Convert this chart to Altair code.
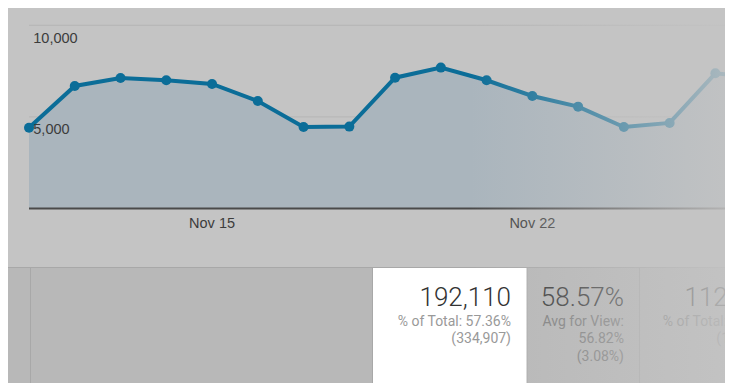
import altair as alt
import pandas as pd

# ---- data ----
days = list(range(11, 28))
sessions = [4410, 6690, 7120, 7000, 6800, 5870, 4450, 4470, 7140, 7690,
            7000, 6140, 5560, 4450, 4670, 7380, 7140]
y_ticks = [5000, 10000]
y_tick_labels = ["5,000", "10,000"]
x_tick_days = [15, 22]
x_tick_labels = ["Nov 15", "Nov 22"]

metric_values = ["192,110", "58.57%", "112,797"]
metric_line1 = ["% of Total: 57.36%", "Avg for View:", "% of Total: 33.68%"]
metric_line2 = ["(334,907)", "56.82%", "(195,374)"]
metric_line3 = ["", "(3.08%)", ""]

# ---- layout / style ----
W, H = 717, 375
BG = "#c4c4c4"
LINE = "#0b6d98"
AREA = "#aab5bd"
GRID = "#b6b6b6"
TABLE_BG = "#b8b8b8"
BORDER = "#a8a8a8"
AXIS_FONT = "Liberation Sans"
TABLE_FONT = "Roboto"

xs = alt.Scale(domain=[10.541, 26.21], nice=False, zero=False)
ys = alt.Scale(domain=[-9525, 10944], nice=False, zero=False)

base = 0
series = pd.DataFrame({"day": days, "sessions": sessions, "base": [base] * len(days)})
yt = pd.DataFrame({"v": y_ticks, "label": y_tick_labels, "x0": [days[0]] * len(y_ticks)})
xt = pd.DataFrame({"d": x_tick_days, "label": x_tick_labels, "base": [base] * len(x_tick_days)})
bl = pd.DataFrame({"x0": [days[0]], "base": [base]})
one = pd.DataFrame({"k": [0]})

X = alt.X("day:Q", scale=xs, axis=None)
Y = alt.Y("sessions:Q", scale=ys, axis=None, stack=None)

layers = []

# table background and borders
layers.append(alt.Chart(one).mark_rect(color=TABLE_BG).encode(
    x=alt.value(0), x2=alt.value(W), y=alt.value(259), y2=alt.value(H)))
layers.append(alt.Chart(one).mark_rect(color=BORDER).encode(
    x=alt.value(0), x2=alt.value(W), y=alt.value(259), y2=alt.value(260)))
for px in [22, 364, 518.5, 631]:
    layers.append(alt.Chart(one).mark_rect(color=BORDER).encode(
        x=alt.value(px), x2=alt.value(px + 1), y=alt.value(259), y2=alt.value(H)))

# gridlines
layers.append(alt.Chart(yt).mark_rule(color=GRID, strokeWidth=1).encode(
    y=alt.Y("v:Q", scale=ys, axis=None),
    x=alt.X("x0:Q", scale=xs, axis=None), x2=alt.value(W)))

# area + baseline + line + points
layers.append(alt.Chart(series).mark_area(color=AREA, clip=True).encode(
    x=X, y=Y, y2=alt.Y2("base:Q")))
layers.append(alt.Chart(bl).mark_rule(color="#4a4a4a", strokeWidth=2).encode(
    y=alt.Y("base:Q", scale=ys, axis=None),
    x=alt.X("x0:Q", scale=xs, axis=None), x2=alt.value(W)))
layers.append(alt.Chart(series).mark_line(color=LINE, strokeWidth=4, clip=True).encode(
    x=X, y=Y))
layers.append(alt.Chart(series).mark_circle(color=LINE, size=100, opacity=1, clip=True).encode(
    x=X, y=Y))

# axis labels
layers.append(alt.Chart(yt).mark_text(
    align="left", baseline="alphabetic", dx=4.3, dy=17.3,
    font=AXIS_FONT, fontSize=14.5, color="#3c3c3c").encode(
    x=alt.X("x0:Q", scale=xs, axis=None),
    y=alt.Y("v:Q", scale=ys, axis=None), text="label:N"))
layers.append(alt.Chart(xt).mark_text(
    align="center", baseline="alphabetic", dy=19.8,
    font=AXIS_FONT, fontSize=14.5, color="#3c3c3c").encode(
    x=alt.X("d:Q", scale=xs, axis=None),
    y=alt.Y("base:Q", scale=ys, axis=None), text="label:N"))


def cell_texts(i, right, big_color, small_color):
    out = []
    rows = [(metric_values[i], 26, 297.7, big_color, 300),
            (metric_line1[i], 14, 318, small_color, 400),
            (metric_line2[i], 14, 335.3, small_color, 400),
            (metric_line3[i], 14, 353, small_color, 400)]
    for txt, fs, yb, col, fw in rows:
        if not txt:
            continue
        out.append(alt.Chart(pd.DataFrame({"t": [txt]})).mark_text(
            align="right", baseline="alphabetic", font=TABLE_FONT,
            fontSize=fs, fontWeight=fw, color=col).encode(
            x=alt.value(right), y=alt.value(yb), text="t:N"))
    return out


layers += cell_texts(1, 616, "#2a2a2a", "#777777")
layers += cell_texts(2, 768, "#2a2a2a", "#777777")

# right-side fade
fade = alt.Gradient(
    gradient="linear",
    stops=[alt.GradientStop(color="rgba(196,196,196,0)", offset=0),
           alt.GradientStop(color="rgba(196,196,196,0.86)", offset=1)],
    x1=0, x2=1, y1=0, y2=0)
layers.append(alt.Chart(one).mark_rect(fill=fade).encode(
    x=alt.value(462), x2=alt.value(W), y=alt.value(0), y2=alt.value(H)))

# highlighted white cell
layers.append(alt.Chart(one).mark_rect(color="#ffffff").encode(
    x=alt.value(365), x2=alt.value(518.5), y=alt.value(260), y2=alt.value(H)))
layers += cell_texts(0, 503, "#333333", "#999999")

chart = alt.layer(*layers).properties(
    width=W, height=H,
    autosize=alt.AutoSizeParams(type="none"),
    padding=0,
).configure(background=BG).configure_view(stroke=None)

chart.save("out.html", embed_options={"renderer": "svg", "actions": False})
